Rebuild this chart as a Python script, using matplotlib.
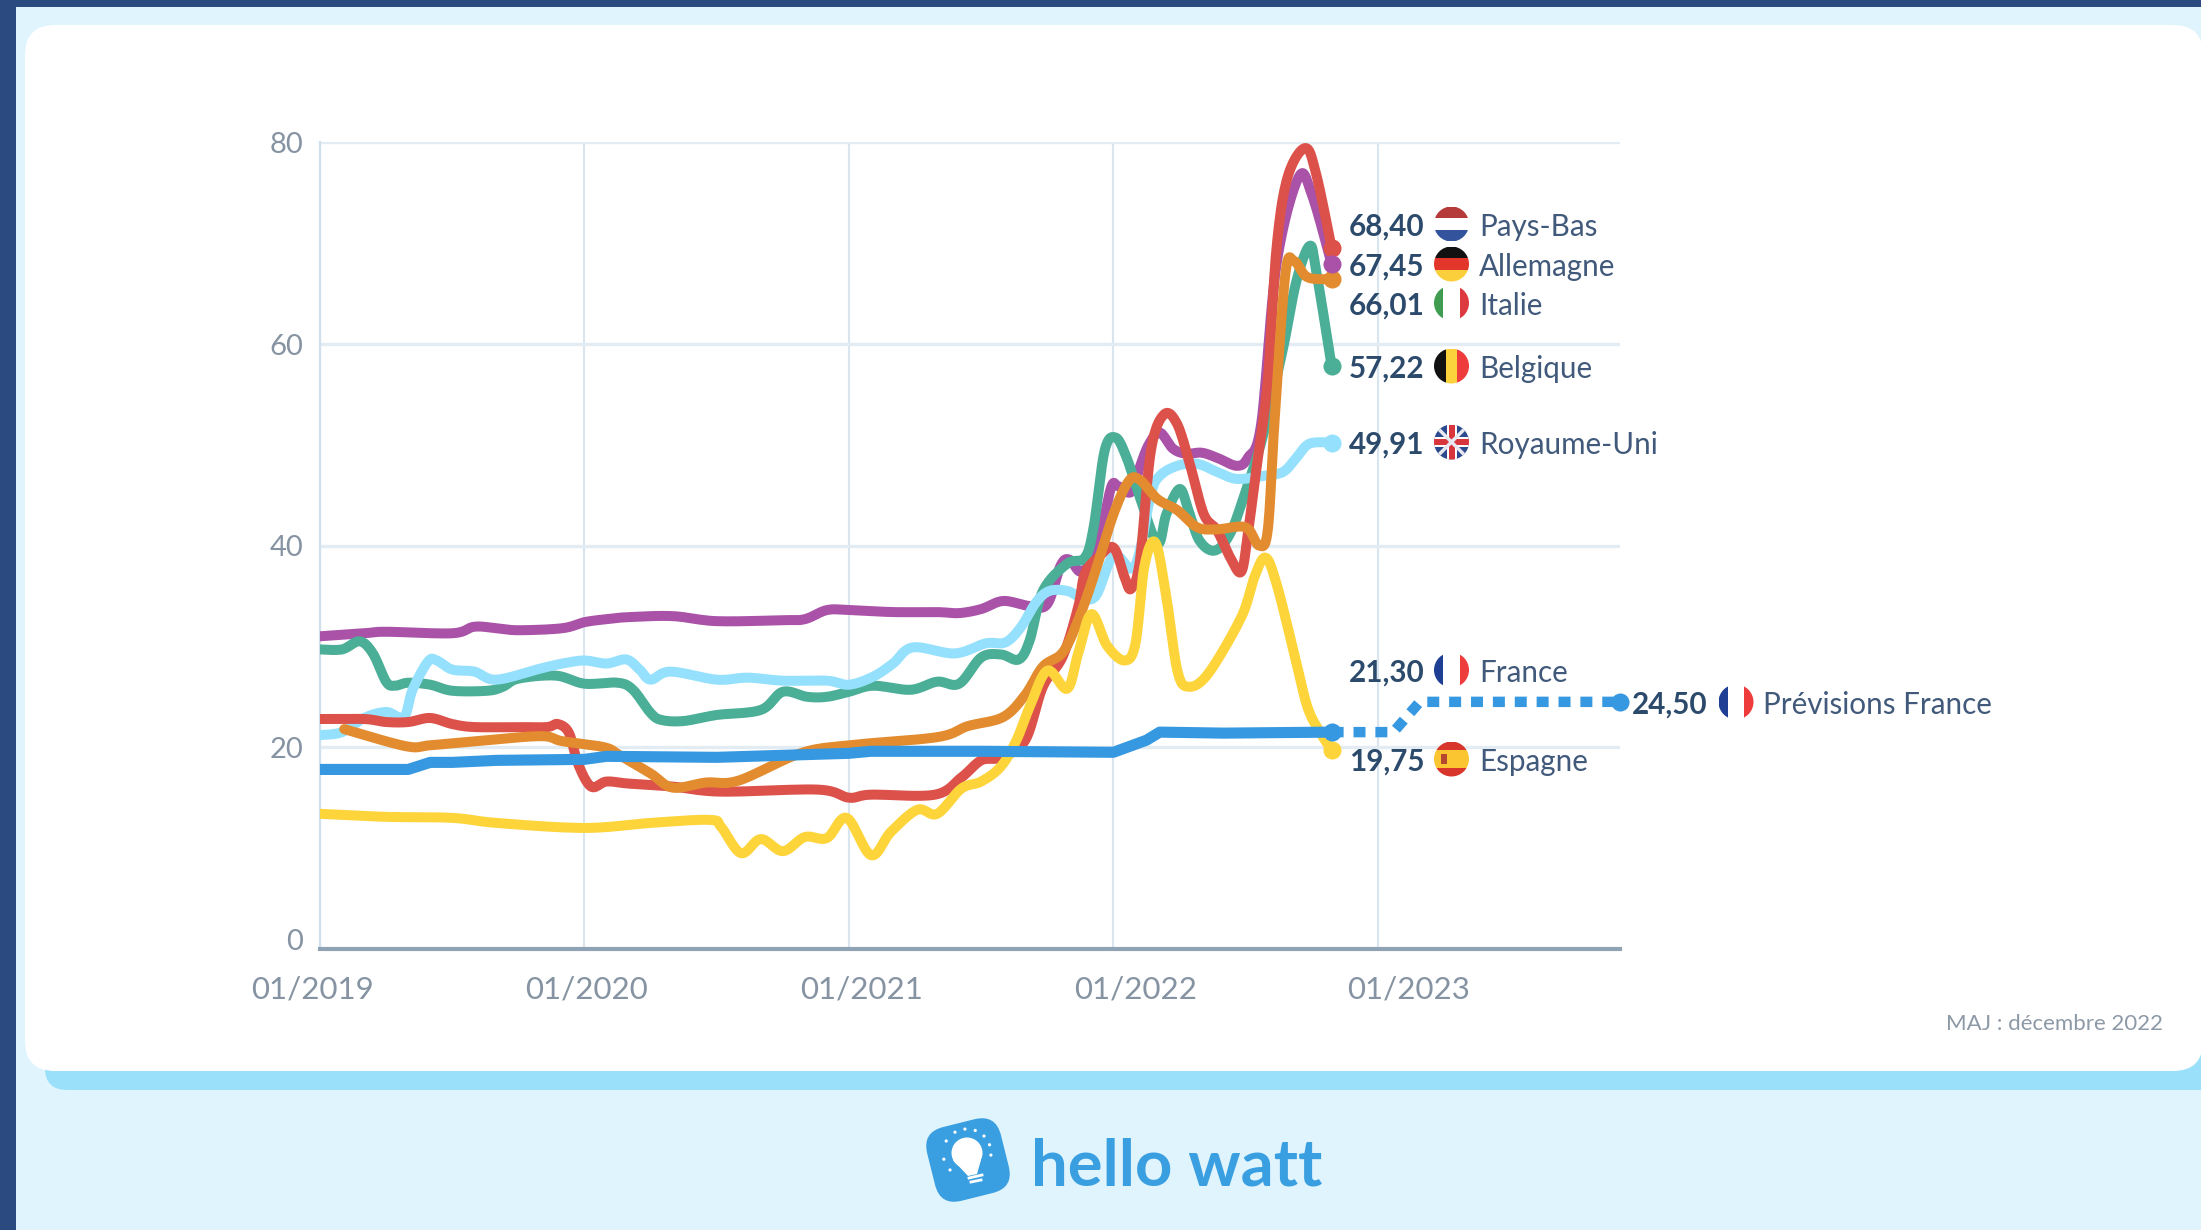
import numpy as np
import matplotlib
matplotlib.use("Agg")
import matplotlib.pyplot as plt
from matplotlib.patches import Circle, FancyBboxPatch, Polygon, Rectangle
from matplotlib.transforms import Affine2D

plt.rcParams['font.family'] = ['Lato', 'DejaVu Sans']

W, H = 2201, 1230

# x = months since 01/2019, y = EUR/MWh
pb_x = [0, 2, 3, 4, 5, 6, 7, 9, 10.3, 10.8, 11.3, 11.7, 12.3, 13, 14, 16, 18.2, 22.6, 24, 25, 27.9, 29.1, 30, 30.9, 32, 32.8, 33.7, 34.4, 34.7, 35.3, 36, 36.5, 36.8, 37.2, 37.7, 38.3, 38.9, 39.5, 40.1, 40.7, 41.3, 41.8, 42.1, 42.5, 43, 43.4, 43.9, 44.7, 45.2, 45.9]
pb_y = [22.8, 22.8, 22.5, 22.5, 22.9, 22.3, 22, 22, 22, 22.3, 21.4, 18.4, 16.1, 16.6, 16.4, 16.1, 15.6, 15.8, 15, 15.3, 15.3, 17, 18.7, 19, 20.7, 26, 29, 33.9, 37.2, 38.8, 39.8, 36.9, 35.7, 38.5, 49.4, 53, 52, 47.8, 43.1, 41.5, 38.8, 37.4, 41.2, 47.8, 56.3, 69.5, 76.5, 79.4, 76.8, 69.5]

de_x = [0, 2, 3, 6, 7, 8, 9, 11, 12, 13, 14, 16, 18, 21, 22, 23, 24, 26, 28, 29, 30, 31, 32.2, 33, 33.6, 34, 34.5, 35, 35.4, 35.9, 36.2, 36.8, 37.2, 37.6, 38.1, 38.7, 39.3, 40, 40.7, 41.6, 42.1, 42.7, 43.4, 44.4, 45, 45.9]
de_y = [31, 31.3, 31.45, 31.3, 31.95, 31.8, 31.6, 31.8, 32.4, 32.7, 32.9, 33, 32.5, 32.6, 32.7, 33.6, 33.6, 33.4, 33.4, 33.3, 33.7, 34.5, 34, 34.2, 38, 38.6, 37.4, 38.5, 41, 45.8, 45.9, 45.3, 47.8, 50, 51.2, 49.6, 49.1, 49.2, 48.7, 47.9, 48.7, 52, 67.9, 76.5, 74.8, 67.9]

be_x = [0, 1, 1.8, 2.4, 3, 3.4, 4, 5, 6, 7.6, 8.3, 9, 10.7, 12, 13.5, 14.2, 15, 15.5, 16.5, 18, 20, 21, 22.1, 23, 24, 25.1, 26.8, 28, 29, 30, 30.9, 31.7, 32.2, 32.8, 33.9, 34.7, 35.1, 35.6, 36.1, 36.6, 37.2, 38, 38.4, 39, 39.4, 39.9, 40.6, 41.3, 42, 42.8, 43.7, 44.3, 44.9, 45.2, 45.9]
be_y = [29.7, 29.7, 30.5, 29.3, 26.5, 26.1, 26.4, 26.2, 25.6, 25.6, 26, 26.8, 27.1, 26.3, 26.4, 25.7, 23.4, 22.7, 22.6, 23.2, 23.7, 25.5, 25, 25, 25.5, 26.1, 25.7, 26.5, 26.3, 28.9, 29.2, 28.7, 30.6, 35.5, 38.2, 38.8, 41.8, 49.4, 50.7, 48.7, 44.8, 40.2, 43.1, 45.6, 43.5, 40.5, 39.5, 41.2, 45.4, 51, 59.6, 66.2, 69.7, 67.2, 57.8]

uk_x = [0, 1, 2, 3, 3.8, 4.2, 4.9, 5.3, 6, 7, 8, 10, 11, 12, 13, 13.9, 14.5, 15, 15.9, 18, 19.4, 21, 23, 24, 25.1, 26, 26.9, 28.8, 30.2, 31.1, 31.8, 32.5, 33.1, 33.9, 34.5, 35.2, 36, 36.8, 37.2, 37.7, 38.1, 38.9, 39.8, 40.7, 41.6, 42.8, 43.7, 44.3, 44.9, 45.9]
uk_y = [21.2, 21.5, 22.9, 23.5, 23, 25.7, 28.5, 28.6, 27.7, 27.5, 26.7, 27.8, 28.3, 28.6, 28.3, 28.7, 27.7, 26.7, 27.5, 26.7, 26.9, 26.6, 26.6, 26.2, 27, 28.3, 29.9, 29.3, 30.3, 30.4, 31.9, 34.4, 35.5, 35.5, 34.9, 35, 39, 37.7, 39.5, 45.1, 46.9, 47.9, 48.1, 47.3, 46.6, 46.9, 47.3, 48.7, 50.1, 50.2]

it_x = [1.1, 3.9, 5, 7.1, 10, 11, 12.9, 13.6, 15, 16, 17.5, 19, 21.8, 24, 28, 29.4, 31, 32, 32.8, 33.7, 34.4, 35.1, 36, 36.7, 37.2, 38, 38.9, 39.8, 40.7, 42, 42.6, 43, 43.3, 43.8, 44.2, 44.8, 45.9]
it_y = [21.8, 20.1, 20.2, 20.6, 21.1, 20.6, 20, 19.2, 17.4, 16, 16.5, 16.7, 19.4, 20.2, 21, 22.1, 23, 25.2, 28, 29.4, 32.6, 36.9, 43.1, 46.4, 46.5, 44.6, 43.5, 41.8, 41.6, 41.8, 40, 41.5, 52, 66.9, 68.2, 66.6, 66.4]

es_x = [0, 3, 6, 8, 12, 15, 17.7, 18.2, 19.1, 20, 21, 22, 23, 23.9, 25, 25.9, 27.1, 28, 29.1, 30, 30.9, 31.6, 32.2, 33, 33.9, 34.4, 35, 35.7, 36.5, 37, 37.4, 37.9, 38.4, 38.9, 39.4, 40.3, 41.8, 42.4, 42.9, 43.4, 44.2, 44.8, 45.4, 45.9]
es_y = [13.4, 13.1, 13, 12.5, 12, 12.5, 12.8, 12.1, 9.5, 10.9, 9.7, 11.1, 11, 13, 9.3, 11.6, 13.8, 13.4, 15.9, 16.6, 18.1, 20.7, 24, 27.6, 25.8, 29.3, 33.2, 30.1, 28.6, 30.3, 37.9, 40.3, 34.9, 27.6, 26, 27.3, 32.9, 36.9, 38.8, 36.2, 29.3, 24, 21.4, 19.7]

fr_x = [0, 4, 5, 6, 8, 12, 13, 18, 24, 25, 30, 36, 37.5, 38.1, 41, 45.9]
fr_y = [17.8, 17.8, 18.5, 18.5, 18.7, 18.8, 19.1, 19, 19.4, 19.6, 19.6, 19.5, 20.7, 21.5, 21.4, 21.5]

prev_x = [45.9, 48.7, 49.9, 59]
prev_y = [21.5, 21.5, 24.5, 24.5]

x_ticks = [0, 12, 24, 36, 48]
x_labels = ['01/2019', '01/2020', '01/2021', '01/2022', '01/2023']
y_ticks = [0, 20, 40, 60, 80]

PURPLE = '#a952a8'
GREEN = '#4bae97'
SKY = '#95e1fd'
RED = '#dc5149'
ORANGE = '#e28c2f'
YELLOW = '#fdd53b'
BLUE = '#3598e0'
DARK = '#2b4a80'
NAVY = '#2c4a6b'
SLATE = '#41597a'
GREY = '#8593a2'


def smooth(x, y, n=12):
    p = np.column_stack([x, y])
    p = np.vstack([p[0], p, p[-1]])
    out = []
    for i in range(1, len(p) - 2):
        t = np.linspace(0, 1, n, endpoint=False)[:, None]
        a, b, c, d = p[i - 1], p[i], p[i + 1], p[i + 2]
        out.append(0.5 * (2 * b + (c - a) * t + (2 * a - 5 * b + 4 * c - d) * t ** 2 + (3 * b - a - 3 * c + d) * t ** 3))
    out.append(p[-2][None, :])
    out = np.vstack(out)
    return out[:, 0], out[:, 1]


fig = plt.figure(figsize=(W / 100, H / 100), dpi=100)
fig.patch.set_facecolor('#e0f4fe')


def px_axes(z):
    a = fig.add_axes([0, 0, 1, 1], zorder=z)
    a.set_xlim(0, W)
    a.set_ylim(H, 0)
    a.axis('off')
    a.patch.set_alpha(0)
    return a


bg = px_axes(0)
bg.add_patch(FancyBboxPatch((45, 1000), 2300, 90, boxstyle='round,pad=0,rounding_size=22', fc='#9be0fb', ec='none'))
bg.add_patch(FancyBboxPatch((25, 25), 2178, 1046, boxstyle='round,pad=0,rounding_size=30', fc='white', ec='none'))
bg.add_patch(Rectangle((0, 0), 16, H, fc=DARK, ec='none'))
bg.add_patch(Rectangle((0, 0), W, 7, fc=DARK, ec='none'))

# chart
ax = fig.add_axes([320 / W, 1 - 949 / H, 1300 / W, 807 / H], zorder=1)
ax.patch.set_alpha(0)
ax.set_xlim(0, 1300 / 22.04)
ax.set_ylim(0, 80)
ax.set_xticks(x_ticks)
ax.set_yticks(y_ticks)
ax.tick_params(length=0, labelbottom=False, labelleft=False)
ax.grid(axis='x', color='#d9e5ef', lw=1.5)
ax.grid(axis='y', color='#e4ecf3', lw=2.4)
ax.set_axisbelow(True)
for s in ['top', 'right']:
    ax.spines[s].set_visible(False)
ax.spines['left'].set_color('#cfdfec')
ax.spines['left'].set_linewidth(1.6)
ax.spines['bottom'].set_color('#8fa3b5')
ax.spines['bottom'].set_linewidth(3)

series = [(de_x, de_y, PURPLE), (be_x, be_y, GREEN), (uk_x, uk_y, SKY), (pb_x, pb_y, RED),
          (it_x, it_y, ORANGE), (es_x, es_y, YELLOW)]
for z, (sx, sy, col) in enumerate(series):
    xs, ys = smooth(sx, sy)
    ax.plot(xs, ys, color=col, lw=7.2, solid_capstyle='round', solid_joinstyle='round', zorder=3 + z * 0.1)

ax.plot(fr_x, fr_y, color=BLUE, lw=8, solid_capstyle='round', solid_joinstyle='round', zorder=4)
ax.plot(prev_x, prev_y, color=BLUE, lw=7.5, dashes=(1.15, 0.95), dash_capstyle='butt', zorder=4, clip_on=False)

# end dots
for sx, sy, col in [(pb_x, pb_y, RED), (it_x, it_y, ORANGE), (de_x, de_y, PURPLE), (be_x, be_y, GREEN),
                    (uk_x, uk_y, SKY), (es_x, es_y, YELLOW), (fr_x, fr_y, BLUE), (prev_x, prev_y, BLUE)]:
    ax.plot(sx[-1], sy[-1], 'o', ms=13, color=col, mew=0, zorder=5, clip_on=False)

ov = px_axes(2)

# axis labels sit off their gridlines in the source
for lab, cx in zip(x_labels, [312, 587, 862, 1136, 1409]):
    ov.text(cx, 990, lab, ha='center', va='center', fontsize=22.5, color=GREY)
for v, py in zip(y_ticks, [942, 750, 548, 347, 145]):
    ov.text(303, py, str(v), ha='right', va='center', fontsize=21, color=GREY)


def flag(cx, cy, kind, r=17.5):
    clip = Circle((cx, cy), r, transform=ov.transData)

    def add(p):
        ov.add_patch(p)
        p.set_clip_path(clip)

    def hstripes(cols, hs):
        y = cy - r
        for c, h in zip(cols, hs):
            add(Rectangle((cx - r, y), 2 * r, h * 2 * r, fc=c, ec='none'))
            y += h * 2 * r

    def vstripes(cols, ws):
        x = cx - r
        for c, w in zip(cols, ws):
            add(Rectangle((x, cy - r), w * 2 * r, 2 * r, fc=c, ec='none'))
            x += w * 2 * r

    if kind == 'nl':
        hstripes(['#b53a3a', 'white', '#33549c'], [1 / 3] * 3)
    elif kind == 'de':
        hstripes(['#111111', '#e2362b', '#fbcf3c'], [1 / 3] * 3)
    elif kind == 'it':
        vstripes(['#3f9c50', 'white', '#dd3a40'], [0.27, 0.46, 0.27])
    elif kind == 'be':
        vstripes(['#111111', '#fbd23c', '#ee3b3b'], [1 / 3] * 3)
    elif kind == 'fr':
        vstripes(['#1f3f94', 'white', '#ee3b3b'], [0.27, 0.46, 0.27])
    elif kind == 'es':
        hstripes(['#d8352c', '#fbc531', '#d8352c'], [0.25, 0.5, 0.25])
        add(Rectangle((cx - 11, cy - 5), 6, 10, fc='#b5472f', ec='none'))
    elif kind == 'uk':
        add(Rectangle((cx - r, cy - r), 2 * r, 2 * r, fc='#2d4a8f', ec='none'))
        for sgn in (1, -1):
            ov.plot([cx - r, cx + r], [cy - sgn * r, cy + sgn * r], color='#e8e8f0', lw=2.5, solid_capstyle='butt')[0].set_clip_path(clip)
        add(Rectangle((cx - r, cy - 5), 2 * r, 10, fc='white', ec='none'))
        add(Rectangle((cx - 5, cy - r), 10, 2 * r, fc='white', ec='none'))
        add(Rectangle((cx - r, cy - 3), 2 * r, 6, fc='#d8353c', ec='none'))
        add(Rectangle((cx - 3, cy - r), 6, 2 * r, fc='#d8353c', ec='none'))


end_labels = [('68,40', 'nl', 'Pays-Bas', 224), ('67,45', 'de', 'Allemagne', 264), ('66,01', 'it', 'Italie', 303),
              ('57,22', 'be', 'Belgique', 366), ('49,91', 'uk', 'Royaume-Uni', 442), ('21,30', 'fr', 'France', 670),
              ('19,75', 'es', 'Espagne', 759)]
for val, kind, name, py in end_labels:
    ov.text(1349, py + 3, val, ha='left', va='center', fontsize=21.3, fontweight='bold', color=NAVY)
    flag(1451.5, py, kind)
    ov.text(1479, py + 3, name, ha='left', va='center', fontsize=21.3, color=SLATE)

ov.text(1632, 705, '24,50', ha='left', va='center', fontsize=21.3, fontweight='bold', color=NAVY)
flag(1736, 702, 'fr')
ov.text(1763, 705, 'Prévisions France', ha='left', va='center', fontsize=21.3, color=SLATE)

ov.text(2163, 1024, 'MAJ : décembre 2022', ha='right', va='center', fontsize=16, color='#8d99a6')

# logo
rot = Affine2D().rotate_deg_around(968, 1160, -14) + ov.transData
ov.add_patch(FancyBboxPatch((968 - 38, 1160 - 38), 76, 76, boxstyle='round,pad=0,rounding_size=22', fc='#3a9fe0', ec='none', transform=rot))
ov.add_patch(Circle((967, 1153), 15.5, fc='white', ec='none'))
ov.add_patch(Polygon([(953, 1160), (981, 1160), (977, 1174), (968, 1176)], fc='white', ec='none'))
for a in np.radians([150, 120, 95, 70, 45, 20, -5, 195, 225]):
    ov.add_patch(Circle((967 + 24 * np.cos(a), 1153 - 24 * np.sin(a)), 1.6, fc='white', ec='none'))
ov.plot([969, 982], [1178, 1175], color='white', lw=2)
ov.plot([971, 981], [1182, 1180], color='white', lw=2)
ov.text(1031, 1185, 'hello watt', ha='left', va='baseline', fontsize=47, fontweight='bold', color='#3a9fe0')

fig.savefig('out.png', dpi=100)
